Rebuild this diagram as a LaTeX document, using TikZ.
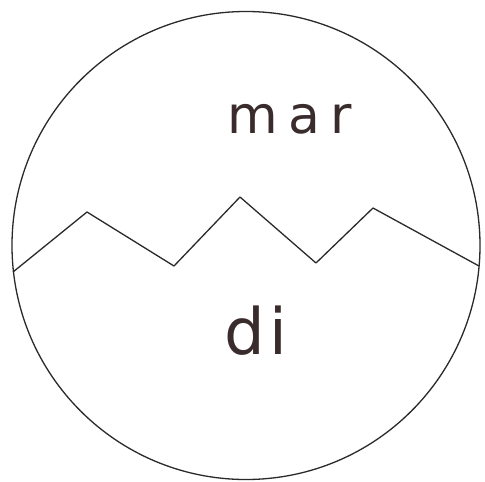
\documentclass[tikz,border=0pt]{standalone}
\usepackage{fontspec}
\newfontfamily\handfont[LetterSpace=20]{DejaVu Sans}
\newfontfamily\handfontb[LetterSpace=8]{DejaVu Sans}
\definecolor{ink}{HTML}{3A2C2C}
\definecolor{pen}{HTML}{2A2A2A}
\begin{document}
\begin{tikzpicture}[x=1pt,y=-1pt,
  pencil/.style={draw=pen,line width=1.3pt,line join=round},
  word/.style={text=ink,inner sep=0pt}]
\useasboundingbox (0,0) rectangle (485,482);
\fill[white] (0,0) rectangle (485,482);
\node[pencil,circle,minimum size=468pt,inner sep=0pt] (ring) at (246,245.5) {};
\coordinate (z1) at (13,272);
\coordinate (z2) at (87,212);
\coordinate (z3) at (174,266);
\coordinate (z4) at (240,197);
\coordinate (z5) at (316,263);
\coordinate (z6) at (373,208);
\coordinate (z7) at (479,266);
\draw[pencil] (z1) -- (z2) -- (z3) -- (z4) -- (z5) -- (z6) -- (z7);
\node[word,font=\handfont\fontsize{52}{52}\selectfont] (mar) at (290,119) {mar};
\node[word,font=\handfontb\fontsize{64}{64}\selectfont] (di) at (256,331) {di};
\end{tikzpicture}
\end{document}
